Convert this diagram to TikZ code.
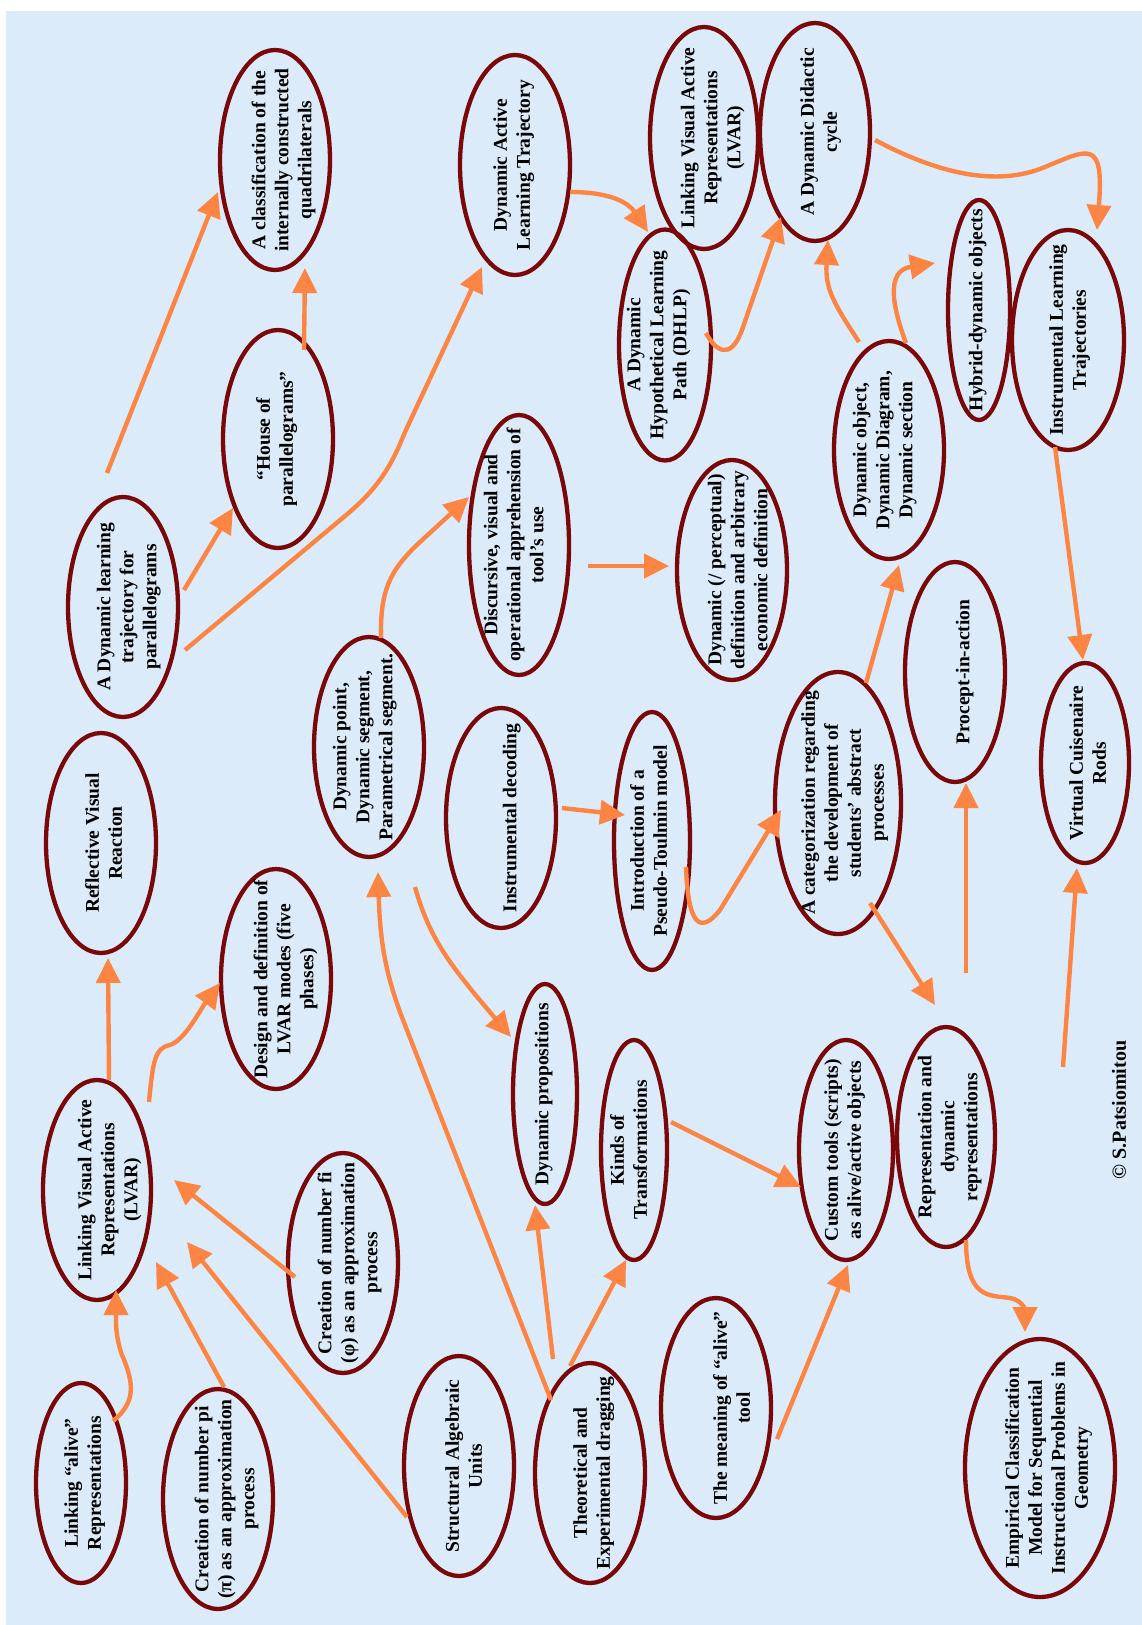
\documentclass[tikz,border=0pt]{standalone}
\usepackage{fontspec}
\setmainfont{Liberation Serif}
\usetikzlibrary{shapes.geometric,arrows.meta,calc}
\definecolor{bgblue}{RGB}{219,235,250}
\definecolor{ellred}{RGB}{122,8,8}
\definecolor{arrorange}{RGB}{252,133,68}
\renewcommand\arraystretch{1}
% centred multi-line label that does not enlarge its ellipse;
% the optional argument lowers the block (moves it across the ellipse)
\newcommand\ctext[2][4]{\smash{\makebox[0pt]{\raisebox{-#1pt}{\begin{tabular}{@{}c@{}}#2\end{tabular}}}}}
\tikzset{
  concept/.style 2 args={ellipse, draw=ellred, line width=4.3pt, inner sep=0pt,
    rotate=90, minimum width=#1pt, minimum height=#2pt,
    font=\fontsize{19.5}{23}\selectfont\bfseries},
  link/.style={draw=arrorange, line width=4.4pt, -{Triangle[length=25pt,width=24pt]}},
}
\begin{document}
\begin{tikzpicture}[x=1pt,y=-1pt]
\useasboundingbox (0,0) rectangle (1142,1625);
\fill[white] (0,0) rectangle (1142,1625);
\fill[bgblue] (6,11) rectangle (1142,1625);

% concepts (centre, then diameter along the text and across it)
\node[concept={220}{110}] (classif) at (275,160) {\ctext[14]{A classification of the\\internally constructed\\quadrilaterals}};
\node[concept={220}{110}] (dalt) at (515,165) {\ctext[4]{Dynamic Active\\Learning Trajectory}};
\node[concept={222}{108}] (lvartop) at (704,138) {\ctext[14]{Linking Visual Active\\Representations\\(LVAR)}};
\node[concept={218}{110}] (cycle) at (815,132) {\ctext[11]{A Dynamic Didactic\\cycle}};
\node[concept={231}{92}] (dhlp) at (665,345) {\ctext[-1]{A Dynamic\\Hypothetical Learning\\Path (DHLP)}};
\node[concept={220}{62}] (hybrid) at (979,310) {\ctext[4]{Hybrid-dynamic objects}};
\node[concept={220}{112}] (ilt) at (1068,340) {\ctext[7]{Instrumental Learning\\Trajectories}};
\node[concept={218}{110}] (house) at (278,439) {\ctext[4]{“House of\\parallelograms”}};
\node[concept={220}{110}] (dltp) at (123,607) {\ctext[11]{A Dynamic learning\\trajectory for\\parallelograms}};
\node[concept={260}{100}] (discur) at (519,545) {\ctext[2]{Discursive, visual and\\operational apprehension of\\tool’s use}};
\node[concept={220}{110}] (dyndef) at (732,570) {\ctext[13]{Dynamic (/ perceptual)\\definition and arbitrary\\economic definition}};
\node[concept={218}{110}] (dynobj) at (889,450) {\ctext[1]{Dynamic object,\\Dynamic Diagram,\\Dynamic section}};
\node[concept={220}{110}] (dynpt) at (369,747) {\ctext[1]{Dynamic point,\\Dynamic segment,\\Parametrical segment.}};
\node[concept={220}{110}] (reflect) at (101,843) {\ctext[10]{Reflective Visual\\Reaction}};
\node[concept={220}{110}] (instdec) at (501,818) {\ctext[16]{Instrumental decoding}};
\node[concept={258}{76}] (toulmin) at (652,841) {\ctext[4]{Introduction of a\\Pseudo-Toulmin model}};
\node[concept={262}{126}] (categ) at (838,803) {\ctext[12]{A categorization regarding\\the development of\\students’ abstract\\processes}};
\node[concept={220}{100}] (procept) at (955,672) {\ctext[15]{Procept-in-action}};
\node[concept={200}{88}] (rods) at (1085,763) {\ctext[10]{Virtual Cuisenaire\\Rods}};
\node[concept={220}{110}] (design) at (276,979) {\ctext[15]{Design and definition of\\LVAR modes (five\\phases)}};
\node[concept={220}{64}] (dynprop) at (545,1094) {\ctext[4]{Dynamic propositions}};
\node[concept={220}{108}] (lvar) at (97,1190) {\ctext[18]{Linking Visual Active\\Representations\\(LVAR)}};
\node[concept={220}{110}] (fi) at (343,1263) {\ctext[12]{Creation of number fi\\(φ) as an approximation\\process}};
\node[concept={220}{66}] (kinds) at (634,1150) {\ctext[2]{Kinds of\\Transformations}};
\node[concept={220}{94}] (custom) at (846,1150) {\ctext[4]{Custom tools (scripts)\\as alive/active objects}};
\node[concept={220}{98}] (repr) at (946,1137) {\ctext[9]{Representation and\\dynamic\\representations}};
\node[concept={200}{90}] (alive) at (81,1483) {\ctext[9]{Linking “alive”\\Representations}};
\node[concept={220}{110}] (pi) at (218,1499) {\ctext[14]{Creation of number pi\\(π) as an approximation\\process}};
\node[concept={220}{110}] (sau) at (459,1466) {\ctext[12]{Structural Algebraic\\Units}};
\node[concept={220}{110}] (drag) at (590,1473) {\ctext[9]{Theoretical and\\Experimental dragging}};
\node[concept={220}{110}] (meaning) at (716,1408) {\ctext[23]{The meaning of “alive”\\tool}};
\node[concept={258}{150}] (empir) at (1040,1468) {\ctext[14]{Empirical Classification\\Model for Sequential\\Instructional Problems in\\Geometry}};

\node[rotate=90, inner sep=0pt, font=\fontsize{20}{24}\selectfont\bfseries] (copy) at (1119,1110) {© S.Patsiomitou};

% loose starting points
\coordinate (procin) at (966,973);
\coordinate (rodsin) at (1063,1067);

% connectors
\draw[link] ($(dltp)+(-16,-134)$) -- ($(classif)+(-57,32)$);
\draw[link] ($(house)+(26,-89)$) -- ($(classif)+(30,108)$);
\draw[link] ($(dltp)+(61,-17)$) -- ($(house)+(-45,69)$);
\draw[link] ($(dltp)+(62,43)$) -- (345,516) .. controls (375,491) and (390,470) .. (405,432) -- ($(dalt)+(-33,102)$);
\draw[link] ($(dalt)+(55,27)$) .. controls (615,192) and (630,205) .. ($(dhlp)+(-17,-113)$);
\draw[link] ($(dhlp)+(41,-12)$) .. controls (715,350) and (730,362) .. (742,330) -- ($(cycle)+(-34,85)$);
\draw[link] ($(cycle)+(60,8)$) .. controls (935,172) and (995,188) .. (1045,167) .. controls (1090,148) and (1104,140) .. ($(ilt)+(29,-110)$);
\draw[link] ($(dynobj)+(-30,-108)$) .. controls (835,305) and (825,290) .. ($(cycle)+(13,108)$);
\draw[link] ($(dynobj)+(17,-107)$) .. controls (888,295) and (890,270) .. ($(hybrid)+(-44,-47)$);
\draw[link] ($(discur)+(69,21)$) -- ($(dyndef)+(-63,-4)$);
\draw[link] ($(dynpt)+(12,-109)$) .. controls (380,590) and (390,570) .. (420,542) -- ($(discur)+(-50,-48)$);
\draw[link] ($(categ)+(28,-120)$) -- ($(dynobj)+(10,115)$);
\draw[link] ($(ilt)+(-13,107)$) -- ($(rods)+(-2,-103)$);
\draw[link] ($(instdec)+(61,-10)$) -- ($(toulmin)+(-27,-26)$);
\draw[link] ($(toulmin)+(34,26)$) .. controls (688,925) and (700,935) .. (720,910) -- ($(categ)+(-57,7)$);
\draw[link] ($(categ)+(32,100)$) -- ($(repr)+(-11,-132)$);
\draw[link] (procin) -- ($(procept)+(11,111)$);
\draw[link] (rodsin) -- ($(rods)+(-8,105)$);
\draw[link] ($(kinds)+(37,-28)$) -- ($(custom)+(-45,37)$);
\draw[link] ($(meaning)+(61,31)$) -- ($(custom)+(2,115)$);
\draw[link] ($(repr)+(20,103)$) .. controls (966,1300) and (990,1295) .. (1010,1298) .. controls (1022,1300) and (1025,1310) .. ($(empir)+(-15,-136)$);
\draw[link] ($(drag)+(-20,-107)$) -- ($(kinds)+(-8,110)$);
\draw[link] ($(drag)+(-37,-114)$) -- ($(dynprop)+(-10,111)$);
\draw[link] ($(drag)+(-39,-73)$) -- (405,1025) .. controls (385,975) and (380,940) .. ($(dynpt)+(9,125)$);
\draw[link] ($(dynpt)+(46,140)$) .. controls (430,940) and (450,965) .. ($(dynprop)+(-34,-57)$);
\draw[link] ($(lvar)+(12,-110)$) -- ($(reflect)+(7,115)$);
\draw[link] ($(lvar)+(52,-88)$) .. controls (153,1060) and (155,1048) .. (170,1045) .. controls (185,1040) and (200,1010) .. ($(design)+(-56,4)$);
\draw[link] ($(fi)+(-48,14)$) -- ($(lvar)+(77,-10)$);
\draw[link] ($(sau)+(-52,51)$) -- ($(lvar)+(90,52)$);
\draw[link] ($(pi)+(6,-112)$) -- ($(lvar)+(59,72)$);
\draw[link] ($(alive)+(32,-62)$) .. controls (135,1403) and (135,1385) .. (122,1355) .. controls (115,1335) and (116,1320) .. ($(lvar)+(19,100)$);
\end{tikzpicture}
\end{document}
